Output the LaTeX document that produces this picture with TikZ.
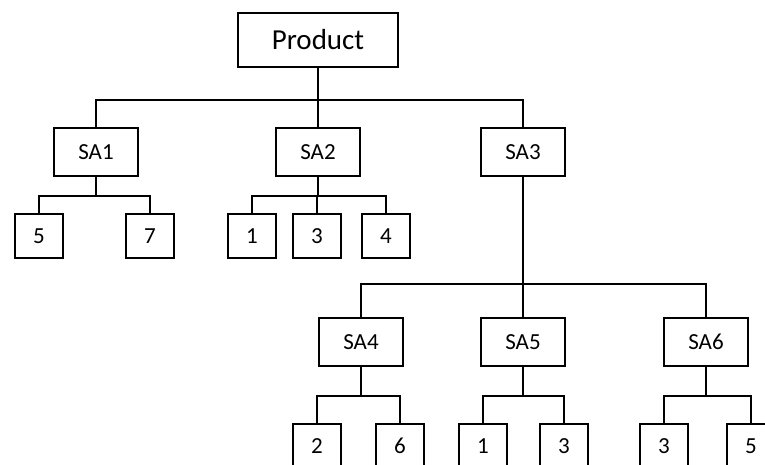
\documentclass[tikz,border=0pt]{standalone}
\usepackage{fontspec}
\setmainfont{Carlito}
\begin{document}
\begin{tikzpicture}[x=1pt,y=-1pt]

% Styles for the boxes and the lines between them
\tikzstyle{box}=[draw,line width=2pt,inner sep=0pt,font=\fontsize{23}{27}\selectfont]
\tikzstyle{sub}=[box,minimum width=84pt,minimum height=48pt]
\tikzstyle{part}=[box,minimum width=48pt,minimum height=44pt]
\tikzstyle{link}=[line width=2pt]

% Drops from a box down to the bus line below it
\def\top{32}      % Product to first bus
\def\low{19}      % SA1 and SA2 to their parts
\def\deep{107}    % SA3 to second bus
\def\leaf{29}     % SA4, SA5, SA6 to their parts

\useasboundingbox (0,0) rectangle (765,464);

% Top box
\node [box,minimum width=160pt,minimum height=54pt,font=\fontsize{29}{33}\selectfont] (prod) at (318,40) {Product};

% First level of sub-assemblies
\node [sub] (sa1) at (96,152) {SA1};
\node [sub] (sa2) at (318,152) {SA2};
\node [sub] (sa3) at (523,152) {SA3};

% Parts of SA1 and SA2
\node [part] (p5) at (39,236) {5};
\node [part] (p7) at (150,236) {7};
\node [part] (p1) at (252,236) {1};
\node [part] (p3) at (317,236) {3};
\node [part] (p4) at (386,236) {4};

% Second level, below SA3
\node [sub] (sa4) at (361,342) {SA4};
\node [sub] (sa5) at (523,342) {SA5};
\node [sub] (sa6) at (706,342) {SA6};

% Bottom row of parts (cut off by the page edge)
\node [part] (q2) at (317,446) {2};
\node [part] (q6) at (400,446) {6};
\node [part] (q1) at (483,446) {1};
\node [part] (q3) at (564,446) {3};
\node [part] (r3) at (664,446) {3};
\node [part] (r5) at (751,446) {5};

% Connectors
\draw [link] (prod.south) -- ++(0,\top) -| (sa1.north);
\draw [link] (prod.south) -- (sa2.north);
\draw [link] (prod.south) -- ++(0,\top) -| (sa3.north);

\draw [link] (sa1.south) -- ++(0,\low) -| (p5.north);
\draw [link] (sa1.south) -- ++(0,\low) -| (p7.north);
\draw [link] (sa2.south) -- ++(0,\low) -| (p1.north);
\draw [link] (sa2.south) -- ++(0,\low) -| (p3.north);
\draw [link] (sa2.south) -- ++(0,\low) -| (p4.north);

\draw [link] (sa3.south) -- ++(0,\deep) -| (sa4.north);
\draw [link] (sa3.south) -- (sa5.north);
\draw [link] (sa3.south) -- ++(0,\deep) -| (sa6.north);

\draw [link] (sa4.south) -- ++(0,\leaf) -| (q2.north);
\draw [link] (sa4.south) -- ++(0,\leaf) -| (q6.north);
\draw [link] (sa5.south) -- ++(0,\leaf) -| (q1.north);
\draw [link] (sa5.south) -- ++(0,\leaf) -| (q3.north);
\draw [link] (sa6.south) -- ++(0,\leaf) -| (r3.north);
\draw [link] (sa6.south) -- ++(0,\leaf) -| (r5.north);

\end{tikzpicture}
\end{document}
